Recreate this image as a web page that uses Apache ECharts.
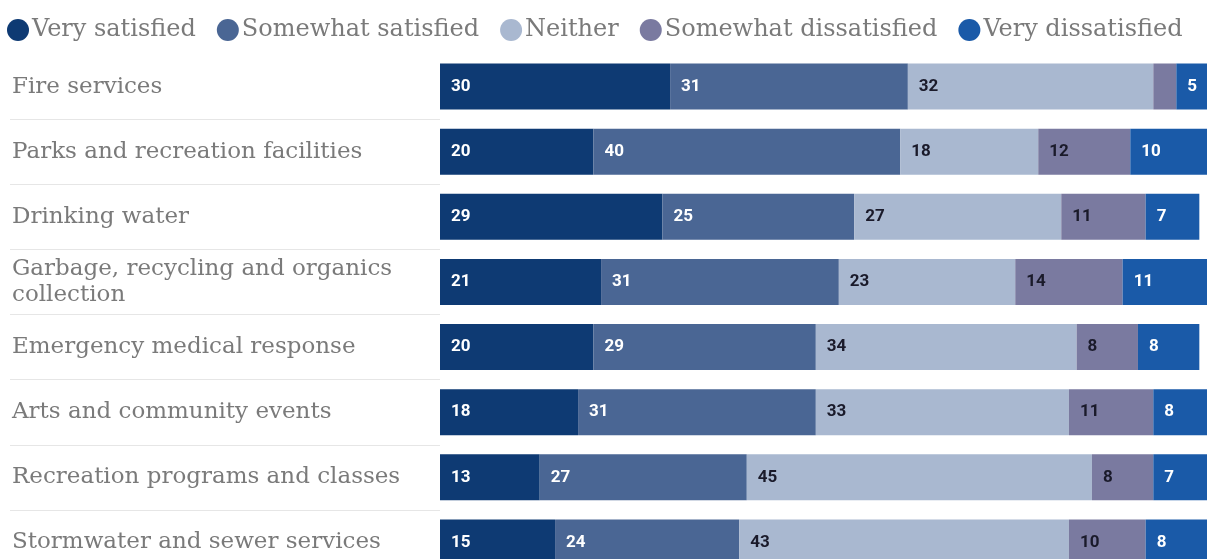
<!DOCTYPE html>
<html>
<head>
<meta charset="utf-8">
<script src="https://cdn.jsdelivr.net/npm/echarts@6/dist/echarts.min.js"></script>
<style>html,body{margin:0;padding:0;background:#fff;overflow:hidden;width:1207px;height:559px}#c{width:1207px;height:580px}</style>
</head>
<body>
<div id="c"></div>
<script>
const categories = [
  "Fire services",
  "Parks and recreation facilities",
  "Drinking water",
  "Garbage, recycling and organics\ncollection",
  "Emergency medical response",
  "Arts and community events",
  "Recreation programs and classes",
  "Stormwater and sewer services"
];
const seriesNames = ["Very satisfied","Somewhat satisfied","Neither","Somewhat dissatisfied","Very dissatisfied"];
const verySatisfied        = [30, 20, 29, 21, 20, 18, 13, 15];
const somewhatSatisfied    = [31, 40, 25, 31, 29, 31, 27, 24];
const neither              = [32, 18, 27, 23, 34, 33, 45, 43];
const somewhatDissatisfied = [3, 12, 11, 14, 8, 11, 8, 10];
const veryDissatisfied     = [5, 10, 7, 11, 8, 8, 7, 8];

const values = [verySatisfied, somewhatSatisfied, neither, somewhatDissatisfied, veryDissatisfied];
const colors = ["#0e3a73", "#4a6694", "#a9b8d0", "#7a7aa0", "#1a5aa8"];
const labelColors = ["#ffffff", "#ffffff", "#1a1a2a", "#1a1a2a", "#ffffff"];

const serif = "DejaVu Serif";
const chart = echarts.init(document.getElementById('c'));
const TOP = 54, H = 521;
chart.setOption({
  animation: false,
  legend: {
    left: 2, top: 13, icon: 'circle', itemWidth: 22, itemHeight: 22, itemGap: 21,
    textStyle: { fontFamily: serif, fontSize: 24, color: '#7a7a7a', padding: [0,0,0,-2] },
    data: seriesNames
  },
  grid: [
    { left: 440, right: 0, top: TOP, height: H, containLabel: false },
    { left: 10, width: 430, top: TOP, height: H, containLabel: false }
  ],
  xAxis: [
    { gridIndex: 0, type: 'value', min: 0, max: 100, show: false },
    { gridIndex: 1, type: 'value', min: 0, max: 100, show: false }
  ],
  yAxis: [
    { gridIndex: 0, type: 'category', data: categories, inverse: true,
      axisLine: { show: false }, axisTick: { show: false }, splitLine: { show: false },
      axisLabel: { show: false } },
    { gridIndex: 1, type: 'category', data: categories, inverse: true,
      axisLine: { show: false }, axisTick: { show: false },
      splitLine: { show: true, interval: (i) => i > 0, lineStyle: { color: '#e6e6e6', width: 1 } },
      axisLabel: { inside: true, align: 'left', margin: 2, fontFamily: serif, fontSize: 23,
        color: '#7a7a7a', lineHeight: 26 } }
  ],
  series: values.map((v, k) => ({
    name: seriesNames[k], type: 'bar', stack: 'total', xAxisIndex: 0, yAxisIndex: 0,
    data: v, barWidth: 46,
    itemStyle: { color: colors[k] },
    label: {
      show: true, position: 'insideLeft', distance: 11,
      formatter: (p) => p.value >= 4 ? String(p.value) : '',
      color: labelColors[k], fontFamily: 'Roboto', fontWeight: 'bold', fontSize: 17
    }
  }))
});
</script>
</body>
</html>
